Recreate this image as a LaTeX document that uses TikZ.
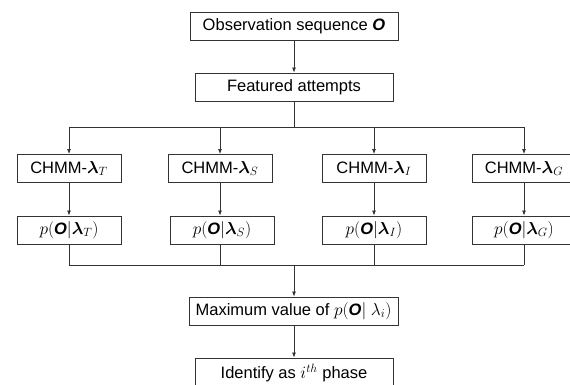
\documentclass[tikz,border=0pt]{standalone}
\usepackage{amsmath,amssymb,bm}
\usepackage{fontspec}
\setmainfont{Liberation Sans}
\usetikzlibrary{arrows.meta}
\newcommand{\bO}{\mbox{\bfseries\itshape O}}
\begin{document}
\begin{tikzpicture}[x=1pt,y=-1pt,
  box/.style={draw=black!80,line width=0.9pt,inner sep=0pt,minimum height=28pt,font=\fontsize{16.5}{19}\selectfont},
  conn/.style={draw=black!80,line width=0.8pt},
  arr/.style={conn,-{Latex[length=5pt,width=4pt]}}]
\useasboundingbox[fill=white] (0,0) rectangle (570,385);
\node[box,minimum width=208pt] (obs) at (294,26.5) {Observation sequence \textbf{\textit{O}}};
\node[box,minimum width=198pt] (feat) at (294,87) {Featured attempts};
\node[box,minimum width=104pt] (c1) at (69,168.5) {CHMM-$\bm{\lambda}_T$};
\node[box,minimum width=104pt] (c2) at (220,168.5) {CHMM-$\bm{\lambda}_S$};
\node[box,minimum width=104pt] (c3) at (374,168.5) {CHMM-$\bm{\lambda}_I$};
\node[box,minimum width=104pt] (c4) at (524,168.5) {CHMM-$\bm{\lambda}_G$};
\node[box,minimum width=104pt] (p1) at (69,230) {$p(\bO|\bm{\lambda}_T)$};
\node[box,minimum width=104pt] (p2) at (222,230) {$p(\bO|\bm{\lambda}_S)$};
\node[box,minimum width=104pt] (p3) at (374,230) {$p(\bO|\bm{\lambda}_I)$};
\node[box,minimum width=104pt] (p4) at (524,230) {$p(\bO|\bm{\lambda}_G)$};
\node[box,minimum width=209pt] (max) at (293.5,311) {Maximum value of $p(\bO|\ \lambda_i)$};
\node[box,minimum width=198pt,minimum height=32pt] (id) at (294,374) {\raisebox{5pt}{Identify as $i^{th}$ phase}};
\coordinate (top) at (294,127);
\coordinate (bot) at (294,265);
\draw[arr] (obs) -- (feat);
\draw[conn] (feat) -- (top);
\draw[conn] (c1.north |- top) -- (c4.north |- top);
\foreach \n in {c1,c2,c3,c4} \draw[arr] (\n.north |- top) -- (\n.north);
\foreach \a/\b in {c1/p1,c2/p2,c3/p3,c4/p4} \draw[arr] (\a.south) -- (\a.south |- \b.north);
\foreach \n in {c1,c2,c3,c4} \draw[conn] (\n.south |- p1.south) -- (\n.south |- bot);
\draw[conn] (c1.south |- bot) -- (c4.south |- bot);
\draw[arr] (bot) -- (max.north -| bot);
\draw[arr] (max.south -| bot) -- (id.north -| bot);
\end{tikzpicture}
\end{document}
